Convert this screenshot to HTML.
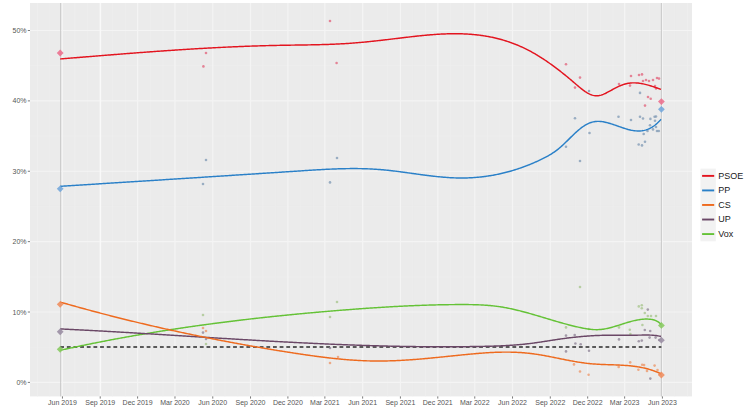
<!DOCTYPE html><html><head><meta charset="utf-8"><style>html,body{margin:0;padding:0;background:#fff;}body{width:750px;height:417px;overflow:hidden;}svg{display:block;font-family:"Liberation Sans",sans-serif;}</style></head><body>
<svg width="750" height="417" viewBox="0 0 750 417">
<rect x="0" y="0" width="750" height="417" fill="#FFFFFF"/>
<rect x="30" y="3" width="662" height="393.4" fill="#EBEBEB"/>
<g stroke="#EEEEEE" stroke-width="0.6"><line x1="30" y1="347.21" x2="692" y2="347.21"/><line x1="30" y1="276.83" x2="692" y2="276.83"/><line x1="30" y1="206.45" x2="692" y2="206.45"/><line x1="30" y1="136.07" x2="692" y2="136.07"/><line x1="30" y1="65.69" x2="692" y2="65.69"/><line x1="37.4" y1="3" x2="37.4" y2="396.4"/><line x1="49.72" y1="3" x2="49.72" y2="396.4"/><line x1="74.77" y1="3" x2="74.77" y2="396.4"/><line x1="87.5" y1="3" x2="87.5" y2="396.4"/><line x1="112.55" y1="3" x2="112.55" y2="396.4"/><line x1="125.28" y1="3" x2="125.28" y2="396.4"/><line x1="150.33" y1="3" x2="150.33" y2="396.4"/><line x1="163.06" y1="3" x2="163.06" y2="396.4"/><line x1="187.7" y1="3" x2="187.7" y2="396.4"/><line x1="200.02" y1="3" x2="200.02" y2="396.4"/><line x1="225.07" y1="3" x2="225.07" y2="396.4"/><line x1="237.8" y1="3" x2="237.8" y2="396.4"/><line x1="262.85" y1="3" x2="262.85" y2="396.4"/><line x1="275.58" y1="3" x2="275.58" y2="396.4"/><line x1="300.63" y1="3" x2="300.63" y2="396.4"/><line x1="313.36" y1="3" x2="313.36" y2="396.4"/><line x1="337.59" y1="3" x2="337.59" y2="396.4"/><line x1="349.91" y1="3" x2="349.91" y2="396.4"/><line x1="374.96" y1="3" x2="374.96" y2="396.4"/><line x1="387.69" y1="3" x2="387.69" y2="396.4"/><line x1="412.74" y1="3" x2="412.74" y2="396.4"/><line x1="425.47" y1="3" x2="425.47" y2="396.4"/><line x1="450.52" y1="3" x2="450.52" y2="396.4"/><line x1="463.25" y1="3" x2="463.25" y2="396.4"/><line x1="487.48" y1="3" x2="487.48" y2="396.4"/><line x1="499.8" y1="3" x2="499.8" y2="396.4"/><line x1="524.85" y1="3" x2="524.85" y2="396.4"/><line x1="537.58" y1="3" x2="537.58" y2="396.4"/><line x1="562.63" y1="3" x2="562.63" y2="396.4"/><line x1="575.36" y1="3" x2="575.36" y2="396.4"/><line x1="600.41" y1="3" x2="600.41" y2="396.4"/><line x1="613.15" y1="3" x2="613.15" y2="396.4"/><line x1="637.37" y1="3" x2="637.37" y2="396.4"/><line x1="649.69" y1="3" x2="649.69" y2="396.4"/><line x1="674.74" y1="3" x2="674.74" y2="396.4"/><line x1="687.47" y1="3" x2="687.47" y2="396.4"/></g>
<g stroke="#F4F4F4" stroke-width="1.2"><line x1="30" y1="382.4" x2="692" y2="382.4"/><line x1="30" y1="312.02" x2="692" y2="312.02"/><line x1="30" y1="241.64" x2="692" y2="241.64"/><line x1="30" y1="171.26" x2="692" y2="171.26"/><line x1="30" y1="100.88" x2="692" y2="100.88"/><line x1="30" y1="30.5" x2="692" y2="30.5"/></g>
<g stroke="#F4F4F4" stroke-width="1.2"><line x1="62.45" y1="3" x2="62.45" y2="396.4"/><line x1="100.23" y1="3" x2="100.23" y2="396.4"/><line x1="137.6" y1="3" x2="137.6" y2="396.4"/><line x1="174.97" y1="3" x2="174.97" y2="396.4"/><line x1="212.75" y1="3" x2="212.75" y2="396.4"/><line x1="250.53" y1="3" x2="250.53" y2="396.4"/><line x1="287.9" y1="3" x2="287.9" y2="396.4"/><line x1="324.86" y1="3" x2="324.86" y2="396.4"/><line x1="362.64" y1="3" x2="362.64" y2="396.4"/><line x1="400.42" y1="3" x2="400.42" y2="396.4"/><line x1="437.79" y1="3" x2="437.79" y2="396.4"/><line x1="474.75" y1="3" x2="474.75" y2="396.4"/><line x1="512.53" y1="3" x2="512.53" y2="396.4"/><line x1="550.31" y1="3" x2="550.31" y2="396.4"/><line x1="587.68" y1="3" x2="587.68" y2="396.4"/><line x1="624.64" y1="3" x2="624.64" y2="396.4"/><line x1="662.42" y1="3" x2="662.42" y2="396.4"/></g>
<line x1="100.53" y1="3" x2="100.53" y2="396.4" stroke="#F9F9F9" stroke-width="1.3"/>
<line x1="60.6" y1="3" x2="60.6" y2="396.4" stroke="#C0C0C0" stroke-width="0.8"/>
<line x1="661.4" y1="3" x2="661.4" y2="396.4" stroke="#C0C0C0" stroke-width="0.8"/>
<line x1="60.2" y1="347" x2="661.4" y2="347" stroke="#5A5A5A" stroke-width="1.9" stroke-dasharray="3.8 2.85"/>
<g fill="#E2607A" fill-opacity="0.75"><circle cx="206" cy="53" r="1.3"/><circle cx="203.4" cy="66.4" r="1.3"/><circle cx="330" cy="21" r="1.3"/><circle cx="336.6" cy="63" r="1.3"/><circle cx="566" cy="64.2" r="1.3"/><circle cx="580" cy="77.6" r="1.3"/><circle cx="575" cy="87.6" r="1.3"/><circle cx="619" cy="84" r="1.3"/><circle cx="631" cy="76" r="1.3"/><circle cx="630" cy="85.6" r="1.3"/><circle cx="639" cy="75" r="1.3"/><circle cx="642" cy="74.4" r="1.3"/><circle cx="643" cy="81" r="1.3"/><circle cx="646" cy="80" r="1.3"/><circle cx="649" cy="81" r="1.3"/><circle cx="653" cy="80" r="1.3"/><circle cx="657" cy="78" r="1.3"/><circle cx="659" cy="78.6" r="1.3"/><circle cx="655" cy="86" r="1.3"/><circle cx="656" cy="88.4" r="1.3"/><circle cx="648" cy="97" r="1.3"/><circle cx="650.7" cy="98.7" r="1.3"/><circle cx="645" cy="105.6" r="1.3"/></g>
<g fill="#7E98B4" fill-opacity="0.75"><circle cx="640" cy="92.9" r="1.3"/><circle cx="206" cy="160" r="1.3"/><circle cx="203" cy="184" r="1.3"/><circle cx="337" cy="158" r="1.3"/><circle cx="330" cy="182.4" r="1.3"/><circle cx="575" cy="118.3" r="1.3"/><circle cx="589.5" cy="133" r="1.3"/><circle cx="566" cy="146.8" r="1.3"/><circle cx="580" cy="161" r="1.3"/><circle cx="589" cy="91" r="1.3"/><circle cx="618.5" cy="116.8" r="1.3"/><circle cx="631" cy="120" r="1.3"/><circle cx="640" cy="116.8" r="1.3"/><circle cx="643" cy="118.5" r="1.3"/><circle cx="650.4" cy="118.9" r="1.3"/><circle cx="654.6" cy="116.8" r="1.3"/><circle cx="656" cy="116.5" r="1.3"/><circle cx="655" cy="120.7" r="1.3"/><circle cx="650" cy="125.2" r="1.3"/><circle cx="653" cy="129.4" r="1.3"/><circle cx="656" cy="127" r="1.3"/><circle cx="657" cy="131" r="1.3"/><circle cx="658.8" cy="131" r="1.3"/><circle cx="647.5" cy="131" r="1.3"/><circle cx="643.7" cy="134" r="1.3"/><circle cx="638.7" cy="144.5" r="1.3"/><circle cx="642" cy="145.4" r="1.3"/><circle cx="645" cy="141.7" r="1.3"/></g>
<g fill="#EC9466" fill-opacity="0.75"><circle cx="203" cy="328" r="1.3"/><circle cx="206" cy="331" r="1.3"/><circle cx="330" cy="363" r="1.3"/><circle cx="338" cy="357" r="1.3"/><circle cx="574" cy="364.4" r="1.3"/><circle cx="580" cy="371.5" r="1.3"/><circle cx="588.6" cy="374.7" r="1.3"/><circle cx="618.7" cy="366.9" r="1.3"/><circle cx="630.2" cy="362.4" r="1.3"/><circle cx="638.4" cy="369.7" r="1.3"/><circle cx="642.2" cy="364.7" r="1.3"/><circle cx="644.1" cy="365.1" r="1.3"/><circle cx="647" cy="370.9" r="1.3"/><circle cx="657.5" cy="370.1" r="1.3"/><circle cx="659.4" cy="374.2" r="1.3"/><circle cx="654.6" cy="365.6" r="1.3"/></g>
<g fill="#8C8094" fill-opacity="0.75"><circle cx="203" cy="332.6" r="1.3"/><circle cx="206" cy="339" r="1.3"/><circle cx="330" cy="348" r="1.3"/><circle cx="566" cy="335.6" r="1.3"/><circle cx="574.7" cy="335" r="1.3"/><circle cx="575.4" cy="343.5" r="1.3"/><circle cx="580.7" cy="344.2" r="1.3"/><circle cx="566" cy="351.4" r="1.3"/><circle cx="589" cy="350.7" r="1.3"/><circle cx="619" cy="339.4" r="1.3"/><circle cx="638.8" cy="341.2" r="1.3"/><circle cx="641.8" cy="340.6" r="1.3"/><circle cx="649.6" cy="337.6" r="1.3"/><circle cx="655.6" cy="337.6" r="1.3"/><circle cx="659.2" cy="340" r="1.3"/><circle cx="644.8" cy="330" r="1.3"/><circle cx="650.2" cy="331" r="1.3"/><circle cx="647.8" cy="309.6" r="1.3"/><circle cx="650.3" cy="378.6" r="1.3"/></g>
<g fill="#A6C48A" fill-opacity="0.75"><circle cx="203" cy="315" r="1.3"/><circle cx="206" cy="344" r="1.3"/><circle cx="330" cy="317" r="1.3"/><circle cx="337" cy="302" r="1.3"/><circle cx="580" cy="287" r="1.3"/><circle cx="566" cy="327.4" r="1.3"/><circle cx="588.6" cy="329" r="1.3"/><circle cx="638.8" cy="306.4" r="1.3"/><circle cx="641.8" cy="305.2" r="1.3"/><circle cx="641.8" cy="308.2" r="1.3"/><circle cx="644.8" cy="313" r="1.3"/><circle cx="647.8" cy="316" r="1.3"/><circle cx="651" cy="316" r="1.3"/><circle cx="656" cy="316" r="1.3"/><circle cx="642.4" cy="325" r="1.3"/><circle cx="619" cy="327.4" r="1.3"/><circle cx="629.8" cy="329.8" r="1.3"/><circle cx="630.4" cy="334" r="1.3"/></g>
<path d="M60.2,350.29 L61.2,350.07 L62.2,349.85 L63.2,349.63 L64.2,349.41 L65.2,349.19 L66.2,348.97 L67.2,348.75 L68.2,348.53 L69.2,348.32 L70.2,348.1 L71.2,347.89 L72.2,347.67 L73.2,347.46 L74.2,347.25 L75.2,347.04 L76.2,346.82 L77.2,346.61 L78.2,346.4 L79.2,346.19 L80.2,345.99 L81.2,345.78 L82.2,345.57 L83.2,345.36 L84.2,345.16 L85.2,344.95 L86.2,344.75 L87.2,344.54 L88.2,344.34 L89.2,344.14 L90.2,343.93 L91.2,343.73 L92.2,343.53 L93.2,343.33 L94.2,343.13 L95.2,342.93 L96.2,342.73 L97.2,342.53 L98.2,342.34 L99.2,342.14 L100.2,341.95 L101.2,341.75 L102.2,341.56 L103.2,341.36 L104.2,341.17 L105.2,340.98 L106.2,340.78 L107.2,340.59 L108.2,340.4 L109.2,340.21 L110.2,340.02 L111.2,339.83 L112.2,339.64 L113.2,339.46 L114.2,339.27 L115.2,339.08 L116.2,338.9 L117.2,338.71 L118.2,338.53 L119.2,338.34 L120.2,338.16 L121.2,337.98 L122.2,337.79 L123.2,337.61 L124.2,337.43 L125.2,337.25 L126.2,337.07 L127.2,336.89 L128.2,336.71 L129.2,336.54 L130.2,336.36 L131.2,336.18 L132.2,336 L133.2,335.83 L134.2,335.65 L135.2,335.48 L136.2,335.31 L137.2,335.13 L138.2,334.96 L139.2,334.79 L140.2,334.62 L141.2,334.44 L142.2,334.27 L143.2,334.1 L144.2,333.94 L145.2,333.77 L146.2,333.6 L147.2,333.43 L148.2,333.26 L149.2,333.1 L150.2,332.93 L151.2,332.77 L152.2,332.6 L153.2,332.44 L154.2,332.27 L155.2,332.11 L156.2,331.95 L157.2,331.79 L158.2,331.63 L159.2,331.47 L160.2,331.31 L161.2,331.15 L162.2,330.99 L163.2,330.83 L164.2,330.67 L165.2,330.51 L166.2,330.36 L167.2,330.2 L168.2,330.04 L169.2,329.89 L170.2,329.73 L171.2,329.58 L172.2,329.43 L173.2,329.27 L174.2,329.12 L175.2,328.97 L176.2,328.82 L177.2,328.67 L178.2,328.52 L179.2,328.37 L180.2,328.22 L181.2,328.07 L182.2,327.92 L183.2,327.77 L184.2,327.63 L185.2,327.48 L186.2,327.33 L187.2,327.19 L188.2,327.04 L189.2,326.9 L190.2,326.75 L191.2,326.61 L192.2,326.47 L193.2,326.33 L194.2,326.18 L195.2,326.04 L196.2,325.9 L197.2,325.76 L198.2,325.62 L199.2,325.48 L200.2,325.34 L201.2,325.2 L202.2,325.07 L203.2,324.93 L204.2,324.79 L205.2,324.66 L206.2,324.52 L207.2,324.38 L208.2,324.25 L209.2,324.12 L210.2,323.98 L211.2,323.85 L212.2,323.72 L213.2,323.58 L214.2,323.45 L215.2,323.32 L216.2,323.19 L217.2,323.06 L218.2,322.93 L219.2,322.8 L220.2,322.67 L221.2,322.54 L222.2,322.41 L223.2,322.29 L224.2,322.16 L225.2,322.03 L226.2,321.91 L227.2,321.78 L228.2,321.66 L229.2,321.53 L230.2,321.41 L231.2,321.28 L232.2,321.16 L233.2,321.04 L234.2,320.91 L235.2,320.79 L236.2,320.67 L237.2,320.55 L238.2,320.43 L239.2,320.31 L240.2,320.19 L241.2,320.07 L242.2,319.95 L243.2,319.83 L244.2,319.71 L245.2,319.6 L246.2,319.48 L247.2,319.36 L248.2,319.25 L249.2,319.13 L250.2,319.02 L251.2,318.9 L252.2,318.79 L253.2,318.67 L254.2,318.56 L255.2,318.45 L256.2,318.34 L257.2,318.22 L258.2,318.11 L259.2,318 L260.2,317.89 L261.2,317.78 L262.2,317.67 L263.2,317.56 L264.2,317.45 L265.2,317.34 L266.2,317.23 L267.2,317.13 L268.2,317.02 L269.2,316.91 L270.2,316.81 L271.2,316.7 L272.2,316.59 L273.2,316.49 L274.2,316.38 L275.2,316.28 L276.2,316.17 L277.2,316.07 L278.2,315.97 L279.2,315.86 L280.2,315.76 L281.2,315.66 L282.2,315.56 L283.2,315.46 L284.2,315.36 L285.2,315.26 L286.2,315.16 L287.2,315.06 L288.2,314.96 L289.2,314.86 L290.2,314.76 L291.2,314.66 L292.2,314.56 L293.2,314.47 L294.2,314.37 L295.2,314.27 L296.2,314.18 L297.2,314.08 L298.2,313.99 L299.2,313.89 L300.2,313.8 L301.2,313.7 L302.2,313.61 L303.2,313.51 L304.2,313.42 L305.2,313.33 L306.2,313.24 L307.2,313.14 L308.2,313.05 L309.2,312.96 L310.2,312.87 L311.2,312.78 L312.2,312.69 L313.2,312.6 L314.2,312.51 L315.2,312.42 L316.2,312.33 L317.2,312.24 L318.2,312.16 L319.2,312.07 L320.2,311.98 L321.2,311.89 L322.2,311.81 L323.2,311.72 L324.2,311.63 L325.2,311.55 L326.2,311.46 L327.2,311.38 L328.2,311.29 L329.2,311.21 L330.2,311.13 L331.2,311.04 L332.2,310.96 L333.2,310.88 L334.2,310.79 L335.2,310.71 L336.2,310.63 L337.2,310.55 L338.2,310.47 L339.2,310.39 L340.2,310.31 L341.2,310.23 L342.2,310.15 L343.2,310.07 L344.2,309.99 L345.2,309.91 L346.2,309.83 L347.2,309.75 L348.2,309.67 L349.2,309.6 L350.2,309.52 L351.2,309.44 L352.2,309.37 L353.2,309.29 L354.2,309.22 L355.2,309.14 L356.2,309.07 L357.2,308.99 L358.2,308.92 L359.2,308.84 L360.2,308.77 L361.2,308.7 L362.2,308.63 L363.2,308.55 L364.2,308.48 L365.2,308.41 L366.2,308.34 L367.2,308.27 L368.2,308.2 L369.2,308.13 L370.2,308.07 L371.2,308 L372.2,307.93 L373.2,307.86 L374.2,307.8 L375.2,307.73 L376.2,307.67 L377.2,307.6 L378.2,307.54 L379.2,307.47 L380.2,307.41 L381.2,307.35 L382.2,307.29 L383.2,307.22 L384.2,307.16 L385.2,307.1 L386.2,307.04 L387.2,306.98 L388.2,306.92 L389.2,306.87 L390.2,306.81 L391.2,306.75 L392.2,306.7 L393.2,306.64 L394.2,306.58 L395.2,306.53 L396.2,306.48 L397.2,306.42 L398.2,306.37 L399.2,306.32 L400.2,306.27 L401.2,306.22 L402.2,306.17 L403.2,306.12 L404.2,306.07 L405.2,306.02 L406.2,305.97 L407.2,305.93 L408.2,305.88 L409.2,305.83 L410.2,305.79 L411.2,305.75 L412.2,305.7 L413.2,305.66 L414.2,305.62 L415.2,305.58 L416.2,305.54 L417.2,305.5 L418.2,305.46 L419.2,305.42 L420.2,305.38 L421.2,305.35 L422.2,305.31 L423.2,305.27 L424.2,305.24 L425.2,305.21 L426.2,305.17 L427.2,305.14 L428.2,305.11 L429.2,305.08 L430.2,305.05 L431.2,305.02 L432.2,304.99 L433.2,304.97 L434.2,304.94 L435.2,304.92 L436.2,304.89 L437.2,304.87 L438.2,304.84 L439.2,304.82 L440.2,304.8 L441.2,304.78 L442.2,304.76 L443.2,304.74 L444.2,304.72 L445.2,304.71 L446.2,304.69 L447.2,304.68 L448.2,304.66 L449.2,304.65 L450.2,304.64 L451.2,304.63 L452.2,304.61 L453.2,304.61 L454.2,304.6 L455.2,304.59 L456.2,304.58 L457.2,304.58 L458.2,304.57 L459.2,304.57 L460.2,304.56 L461.2,304.56 L462.2,304.56 L463.2,304.56 L464.2,304.56 L465.2,304.57 L466.2,304.57 L467.2,304.58 L468.2,304.59 L469.2,304.6 L470.2,304.61 L471.2,304.63 L472.2,304.65 L473.2,304.67 L474.2,304.69 L475.2,304.72 L476.2,304.75 L477.2,304.78 L478.2,304.82 L479.2,304.86 L480.2,304.9 L481.2,304.95 L482.2,305 L483.2,305.06 L484.2,305.12 L485.2,305.18 L486.2,305.25 L487.2,305.33 L488.2,305.41 L489.2,305.49 L490.2,305.58 L491.2,305.67 L492.2,305.77 L493.2,305.88 L494.2,305.99 L495.2,306.1 L496.2,306.23 L497.2,306.35 L498.2,306.49 L499.2,306.63 L500.2,306.78 L501.2,306.93 L502.2,307.09 L503.2,307.26 L504.2,307.43 L505.2,307.61 L506.2,307.8 L507.2,307.99 L508.2,308.18 L509.2,308.39 L510.2,308.59 L511.2,308.81 L512.2,309.02 L513.2,309.24 L514.2,309.47 L515.2,309.7 L516.2,309.94 L517.2,310.18 L518.2,310.42 L519.2,310.67 L520.2,310.92 L521.2,311.18 L522.2,311.44 L523.2,311.7 L524.2,311.97 L525.2,312.24 L526.2,312.51 L527.2,312.78 L528.2,313.06 L529.2,313.34 L530.2,313.62 L531.2,313.91 L532.2,314.2 L533.2,314.48 L534.2,314.77 L535.2,315.07 L536.2,315.36 L537.2,315.66 L538.2,315.95 L539.2,316.25 L540.2,316.55 L541.2,316.85 L542.2,317.15 L543.2,317.45 L544.2,317.75 L545.2,318.05 L546.2,318.35 L547.2,318.65 L548.2,318.95 L549.2,319.25 L550.2,319.55 L551.2,319.85 L552.2,320.15 L553.2,320.45 L554.2,320.74 L555.2,321.04 L556.2,321.33 L557.2,321.62 L558.2,321.91 L559.2,322.2 L560.2,322.49 L561.2,322.77 L562.2,323.05 L563.2,323.33 L564.2,323.61 L565.2,323.88 L566.2,324.15 L567.2,324.42 L568.2,324.69 L569.2,324.95 L570.2,325.21 L571.2,325.46 L572.2,325.71 L573.2,325.96 L574.2,326.2 L575.2,326.44 L576.2,326.68 L577.2,326.91 L578.2,327.13 L579.2,327.36 L580.2,327.57 L581.2,327.78 L582.2,327.99 L583.2,328.18 L584.2,328.37 L585.2,328.55 L586.2,328.72 L587.2,328.88 L588.2,329.03 L589.2,329.17 L590.2,329.29 L591.2,329.39 L592.2,329.48 L593.2,329.56 L594.2,329.61 L595.2,329.65 L596.2,329.67 L597.2,329.66 L598.2,329.64 L599.2,329.59 L600.2,329.52 L601.2,329.43 L602.2,329.31 L603.2,329.17 L604.2,329.01 L605.2,328.84 L606.2,328.64 L607.2,328.43 L608.2,328.21 L609.2,327.97 L610.2,327.71 L611.2,327.45 L612.2,327.18 L613.2,326.9 L614.2,326.61 L615.2,326.31 L616.2,326.01 L617.2,325.7 L618.2,325.39 L619.2,325.07 L620.2,324.76 L621.2,324.44 L622.2,324.12 L623.2,323.8 L624.2,323.49 L625.2,323.18 L626.2,322.87 L627.2,322.56 L628.2,322.27 L629.2,321.98 L630.2,321.69 L631.2,321.42 L632.2,321.16 L633.2,320.9 L634.2,320.66 L635.2,320.43 L636.2,320.22 L637.2,320.02 L638.2,319.84 L639.2,319.67 L640.2,319.52 L641.2,319.39 L642.2,319.28 L643.2,319.2 L644.2,319.13 L645.2,319.09 L646.2,319.07 L647.2,319.07 L648.2,319.1 L649.2,319.16 L650.2,319.25 L651.2,319.36 L652.2,319.52 L653.2,319.73 L654.2,320.01 L655.2,320.36 L656.2,320.79 L657.2,321.31 L658.2,321.95 L659.2,322.7 L660.2,323.57 L661,324.37" fill="none" stroke="#64C236" stroke-width="1.45" stroke-linejoin="round" stroke-linecap="butt"/>
<path d="M60.2,328.93 L61.2,328.97 L62.2,329.02 L63.2,329.07 L64.2,329.12 L65.2,329.16 L66.2,329.21 L67.2,329.26 L68.2,329.31 L69.2,329.36 L70.2,329.41 L71.2,329.46 L72.2,329.51 L73.2,329.56 L74.2,329.61 L75.2,329.66 L76.2,329.71 L77.2,329.76 L78.2,329.81 L79.2,329.86 L80.2,329.91 L81.2,329.96 L82.2,330.02 L83.2,330.07 L84.2,330.12 L85.2,330.17 L86.2,330.23 L87.2,330.28 L88.2,330.33 L89.2,330.38 L90.2,330.44 L91.2,330.49 L92.2,330.54 L93.2,330.6 L94.2,330.65 L95.2,330.71 L96.2,330.76 L97.2,330.82 L98.2,330.87 L99.2,330.93 L100.2,330.98 L101.2,331.04 L102.2,331.09 L103.2,331.15 L104.2,331.2 L105.2,331.26 L106.2,331.31 L107.2,331.37 L108.2,331.43 L109.2,331.48 L110.2,331.54 L111.2,331.6 L112.2,331.65 L113.2,331.71 L114.2,331.77 L115.2,331.82 L116.2,331.88 L117.2,331.94 L118.2,332 L119.2,332.05 L120.2,332.11 L121.2,332.17 L122.2,332.23 L123.2,332.29 L124.2,332.35 L125.2,332.4 L126.2,332.46 L127.2,332.52 L128.2,332.58 L129.2,332.64 L130.2,332.7 L131.2,332.76 L132.2,332.82 L133.2,332.88 L134.2,332.94 L135.2,333 L136.2,333.06 L137.2,333.12 L138.2,333.18 L139.2,333.24 L140.2,333.3 L141.2,333.36 L142.2,333.42 L143.2,333.48 L144.2,333.54 L145.2,333.6 L146.2,333.66 L147.2,333.72 L148.2,333.78 L149.2,333.84 L150.2,333.9 L151.2,333.96 L152.2,334.02 L153.2,334.08 L154.2,334.15 L155.2,334.21 L156.2,334.27 L157.2,334.33 L158.2,334.39 L159.2,334.45 L160.2,334.51 L161.2,334.57 L162.2,334.64 L163.2,334.7 L164.2,334.76 L165.2,334.82 L166.2,334.88 L167.2,334.94 L168.2,335.01 L169.2,335.07 L170.2,335.13 L171.2,335.19 L172.2,335.25 L173.2,335.32 L174.2,335.38 L175.2,335.44 L176.2,335.5 L177.2,335.56 L178.2,335.63 L179.2,335.69 L180.2,335.75 L181.2,335.81 L182.2,335.87 L183.2,335.94 L184.2,336 L185.2,336.06 L186.2,336.12 L187.2,336.19 L188.2,336.25 L189.2,336.31 L190.2,336.37 L191.2,336.43 L192.2,336.5 L193.2,336.56 L194.2,336.62 L195.2,336.68 L196.2,336.74 L197.2,336.81 L198.2,336.87 L199.2,336.93 L200.2,336.99 L201.2,337.05 L202.2,337.12 L203.2,337.18 L204.2,337.24 L205.2,337.3 L206.2,337.36 L207.2,337.43 L208.2,337.49 L209.2,337.55 L210.2,337.61 L211.2,337.67 L212.2,337.73 L213.2,337.8 L214.2,337.86 L215.2,337.92 L216.2,337.98 L217.2,338.04 L218.2,338.1 L219.2,338.16 L220.2,338.22 L221.2,338.29 L222.2,338.35 L223.2,338.41 L224.2,338.47 L225.2,338.53 L226.2,338.59 L227.2,338.65 L228.2,338.71 L229.2,338.77 L230.2,338.83 L231.2,338.89 L232.2,338.95 L233.2,339.01 L234.2,339.07 L235.2,339.13 L236.2,339.19 L237.2,339.25 L238.2,339.31 L239.2,339.37 L240.2,339.43 L241.2,339.49 L242.2,339.55 L243.2,339.61 L244.2,339.67 L245.2,339.73 L246.2,339.79 L247.2,339.84 L248.2,339.9 L249.2,339.96 L250.2,340.02 L251.2,340.08 L252.2,340.14 L253.2,340.19 L254.2,340.25 L255.2,340.31 L256.2,340.37 L257.2,340.43 L258.2,340.48 L259.2,340.54 L260.2,340.6 L261.2,340.65 L262.2,340.71 L263.2,340.77 L264.2,340.82 L265.2,340.88 L266.2,340.94 L267.2,340.99 L268.2,341.05 L269.2,341.1 L270.2,341.16 L271.2,341.22 L272.2,341.27 L273.2,341.33 L274.2,341.38 L275.2,341.44 L276.2,341.49 L277.2,341.54 L278.2,341.6 L279.2,341.65 L280.2,341.71 L281.2,341.76 L282.2,341.81 L283.2,341.87 L284.2,341.92 L285.2,341.97 L286.2,342.03 L287.2,342.08 L288.2,342.13 L289.2,342.18 L290.2,342.24 L291.2,342.29 L292.2,342.34 L293.2,342.39 L294.2,342.44 L295.2,342.49 L296.2,342.55 L297.2,342.6 L298.2,342.65 L299.2,342.7 L300.2,342.75 L301.2,342.8 L302.2,342.85 L303.2,342.9 L304.2,342.94 L305.2,342.99 L306.2,343.04 L307.2,343.09 L308.2,343.14 L309.2,343.19 L310.2,343.24 L311.2,343.28 L312.2,343.33 L313.2,343.38 L314.2,343.42 L315.2,343.47 L316.2,343.52 L317.2,343.56 L318.2,343.61 L319.2,343.65 L320.2,343.7 L321.2,343.75 L322.2,343.79 L323.2,343.84 L324.2,343.88 L325.2,343.92 L326.2,343.97 L327.2,344.01 L328.2,344.05 L329.2,344.1 L330.2,344.14 L331.2,344.18 L332.2,344.23 L333.2,344.27 L334.2,344.31 L335.2,344.35 L336.2,344.39 L337.2,344.43 L338.2,344.47 L339.2,344.51 L340.2,344.55 L341.2,344.59 L342.2,344.63 L343.2,344.67 L344.2,344.71 L345.2,344.75 L346.2,344.79 L347.2,344.83 L348.2,344.86 L349.2,344.9 L350.2,344.94 L351.2,344.97 L352.2,345.01 L353.2,345.05 L354.2,345.08 L355.2,345.12 L356.2,345.15 L357.2,345.19 L358.2,345.22 L359.2,345.26 L360.2,345.29 L361.2,345.32 L362.2,345.36 L363.2,345.39 L364.2,345.42 L365.2,345.45 L366.2,345.49 L367.2,345.52 L368.2,345.55 L369.2,345.58 L370.2,345.61 L371.2,345.64 L372.2,345.67 L373.2,345.7 L374.2,345.73 L375.2,345.76 L376.2,345.79 L377.2,345.81 L378.2,345.84 L379.2,345.87 L380.2,345.9 L381.2,345.92 L382.2,345.95 L383.2,345.97 L384.2,346 L385.2,346.02 L386.2,346.05 L387.2,346.07 L388.2,346.1 L389.2,346.12 L390.2,346.14 L391.2,346.17 L392.2,346.19 L393.2,346.21 L394.2,346.23 L395.2,346.25 L396.2,346.28 L397.2,346.3 L398.2,346.32 L399.2,346.34 L400.2,346.36 L401.2,346.37 L402.2,346.39 L403.2,346.41 L404.2,346.43 L405.2,346.45 L406.2,346.46 L407.2,346.48 L408.2,346.49 L409.2,346.51 L410.2,346.53 L411.2,346.54 L412.2,346.55 L413.2,346.57 L414.2,346.58 L415.2,346.59 L416.2,346.61 L417.2,346.62 L418.2,346.63 L419.2,346.64 L420.2,346.65 L421.2,346.66 L422.2,346.67 L423.2,346.68 L424.2,346.69 L425.2,346.7 L426.2,346.71 L427.2,346.72 L428.2,346.72 L429.2,346.73 L430.2,346.74 L431.2,346.74 L432.2,346.75 L433.2,346.75 L434.2,346.76 L435.2,346.76 L436.2,346.77 L437.2,346.77 L438.2,346.77 L439.2,346.77 L440.2,346.78 L441.2,346.78 L442.2,346.78 L443.2,346.78 L444.2,346.78 L445.2,346.78 L446.2,346.78 L447.2,346.77 L448.2,346.77 L449.2,346.77 L450.2,346.77 L451.2,346.76 L452.2,346.76 L453.2,346.75 L454.2,346.75 L455.2,346.74 L456.2,346.74 L457.2,346.73 L458.2,346.72 L459.2,346.71 L460.2,346.71 L461.2,346.7 L462.2,346.69 L463.2,346.68 L464.2,346.67 L465.2,346.66 L466.2,346.65 L467.2,346.63 L468.2,346.62 L469.2,346.61 L470.2,346.59 L471.2,346.58 L472.2,346.57 L473.2,346.55 L474.2,346.53 L475.2,346.52 L476.2,346.5 L477.2,346.48 L478.2,346.47 L479.2,346.45 L480.2,346.43 L481.2,346.41 L482.2,346.39 L483.2,346.37 L484.2,346.35 L485.2,346.32 L486.2,346.3 L487.2,346.28 L488.2,346.25 L489.2,346.23 L490.2,346.2 L491.2,346.17 L492.2,346.14 L493.2,346.11 L494.2,346.08 L495.2,346.04 L496.2,346.01 L497.2,345.97 L498.2,345.93 L499.2,345.89 L500.2,345.85 L501.2,345.81 L502.2,345.76 L503.2,345.71 L504.2,345.66 L505.2,345.61 L506.2,345.56 L507.2,345.5 L508.2,345.44 L509.2,345.38 L510.2,345.32 L511.2,345.26 L512.2,345.19 L513.2,345.12 L514.2,345.05 L515.2,344.97 L516.2,344.89 L517.2,344.81 L518.2,344.73 L519.2,344.64 L520.2,344.55 L521.2,344.46 L522.2,344.37 L523.2,344.27 L524.2,344.17 L525.2,344.06 L526.2,343.95 L527.2,343.84 L528.2,343.72 L529.2,343.61 L530.2,343.48 L531.2,343.36 L532.2,343.23 L533.2,343.1 L534.2,342.96 L535.2,342.82 L536.2,342.68 L537.2,342.54 L538.2,342.39 L539.2,342.24 L540.2,342.1 L541.2,341.94 L542.2,341.79 L543.2,341.64 L544.2,341.48 L545.2,341.33 L546.2,341.17 L547.2,341.02 L548.2,340.86 L549.2,340.7 L550.2,340.55 L551.2,340.39 L552.2,340.23 L553.2,340.08 L554.2,339.93 L555.2,339.77 L556.2,339.62 L557.2,339.47 L558.2,339.32 L559.2,339.18 L560.2,339.03 L561.2,338.89 L562.2,338.75 L563.2,338.61 L564.2,338.48 L565.2,338.35 L566.2,338.22 L567.2,338.09 L568.2,337.96 L569.2,337.84 L570.2,337.72 L571.2,337.6 L572.2,337.49 L573.2,337.38 L574.2,337.27 L575.2,337.16 L576.2,337.05 L577.2,336.95 L578.2,336.85 L579.2,336.76 L580.2,336.66 L581.2,336.57 L582.2,336.48 L583.2,336.4 L584.2,336.31 L585.2,336.23 L586.2,336.16 L587.2,336.08 L588.2,336.01 L589.2,335.94 L590.2,335.88 L591.2,335.81 L592.2,335.75 L593.2,335.7 L594.2,335.64 L595.2,335.59 L596.2,335.55 L597.2,335.5 L598.2,335.46 L599.2,335.42 L600.2,335.39 L601.2,335.36 L602.2,335.33 L603.2,335.3 L604.2,335.28 L605.2,335.26 L606.2,335.24 L607.2,335.22 L608.2,335.21 L609.2,335.2 L610.2,335.19 L611.2,335.18 L612.2,335.18 L613.2,335.17 L614.2,335.17 L615.2,335.17 L616.2,335.17 L617.2,335.17 L618.2,335.17 L619.2,335.17 L620.2,335.17 L621.2,335.17 L622.2,335.18 L623.2,335.18 L624.2,335.18 L625.2,335.19 L626.2,335.19 L627.2,335.19 L628.2,335.19 L629.2,335.2 L630.2,335.2 L631.2,335.2 L632.2,335.19 L633.2,335.19 L634.2,335.19 L635.2,335.18 L636.2,335.17 L637.2,335.16 L638.2,335.15 L639.2,335.14 L640.2,335.12 L641.2,335.11 L642.2,335.09 L643.2,335.07 L644.2,335.06 L645.2,335.05 L646.2,335.04 L647.2,335.04 L648.2,335.05 L649.2,335.07 L650.2,335.1 L651.2,335.14 L652.2,335.2 L653.2,335.27 L654.2,335.36 L655.2,335.47 L656.2,335.59 L657.2,335.74 L658.2,335.91 L659.2,336.1 L660.2,336.32 L661,336.52" fill="none" stroke="#6A4766" stroke-width="1.45" stroke-linejoin="round" stroke-linecap="butt"/>
<path d="M60.2,302.07 L61.2,302.35 L62.2,302.64 L63.2,302.93 L64.2,303.21 L65.2,303.5 L66.2,303.78 L67.2,304.07 L68.2,304.35 L69.2,304.63 L70.2,304.92 L71.2,305.2 L72.2,305.48 L73.2,305.76 L74.2,306.04 L75.2,306.32 L76.2,306.59 L77.2,306.87 L78.2,307.15 L79.2,307.43 L80.2,307.7 L81.2,307.98 L82.2,308.25 L83.2,308.52 L84.2,308.8 L85.2,309.07 L86.2,309.34 L87.2,309.61 L88.2,309.88 L89.2,310.15 L90.2,310.42 L91.2,310.69 L92.2,310.96 L93.2,311.23 L94.2,311.49 L95.2,311.76 L96.2,312.03 L97.2,312.29 L98.2,312.55 L99.2,312.82 L100.2,313.08 L101.2,313.34 L102.2,313.61 L103.2,313.87 L104.2,314.13 L105.2,314.39 L106.2,314.65 L107.2,314.91 L108.2,315.16 L109.2,315.42 L110.2,315.68 L111.2,315.93 L112.2,316.19 L113.2,316.44 L114.2,316.7 L115.2,316.95 L116.2,317.21 L117.2,317.46 L118.2,317.71 L119.2,317.96 L120.2,318.21 L121.2,318.46 L122.2,318.71 L123.2,318.96 L124.2,319.21 L125.2,319.46 L126.2,319.7 L127.2,319.95 L128.2,320.2 L129.2,320.44 L130.2,320.69 L131.2,320.93 L132.2,321.17 L133.2,321.42 L134.2,321.66 L135.2,321.9 L136.2,322.14 L137.2,322.38 L138.2,322.62 L139.2,322.86 L140.2,323.1 L141.2,323.34 L142.2,323.57 L143.2,323.81 L144.2,324.05 L145.2,324.28 L146.2,324.52 L147.2,324.75 L148.2,324.98 L149.2,325.22 L150.2,325.45 L151.2,325.68 L152.2,325.91 L153.2,326.15 L154.2,326.38 L155.2,326.6 L156.2,326.83 L157.2,327.06 L158.2,327.29 L159.2,327.52 L160.2,327.74 L161.2,327.97 L162.2,328.2 L163.2,328.42 L164.2,328.65 L165.2,328.87 L166.2,329.09 L167.2,329.32 L168.2,329.54 L169.2,329.76 L170.2,329.98 L171.2,330.2 L172.2,330.42 L173.2,330.64 L174.2,330.86 L175.2,331.08 L176.2,331.29 L177.2,331.51 L178.2,331.73 L179.2,331.94 L180.2,332.16 L181.2,332.37 L182.2,332.59 L183.2,332.8 L184.2,333.01 L185.2,333.23 L186.2,333.44 L187.2,333.65 L188.2,333.86 L189.2,334.07 L190.2,334.28 L191.2,334.49 L192.2,334.7 L193.2,334.9 L194.2,335.11 L195.2,335.32 L196.2,335.52 L197.2,335.73 L198.2,335.93 L199.2,336.14 L200.2,336.34 L201.2,336.55 L202.2,336.75 L203.2,336.95 L204.2,337.15 L205.2,337.35 L206.2,337.55 L207.2,337.75 L208.2,337.95 L209.2,338.15 L210.2,338.35 L211.2,338.55 L212.2,338.75 L213.2,338.94 L214.2,339.14 L215.2,339.34 L216.2,339.53 L217.2,339.72 L218.2,339.92 L219.2,340.11 L220.2,340.31 L221.2,340.5 L222.2,340.69 L223.2,340.88 L224.2,341.07 L225.2,341.26 L226.2,341.45 L227.2,341.64 L228.2,341.83 L229.2,342.02 L230.2,342.2 L231.2,342.39 L232.2,342.58 L233.2,342.76 L234.2,342.95 L235.2,343.13 L236.2,343.32 L237.2,343.5 L238.2,343.69 L239.2,343.87 L240.2,344.05 L241.2,344.23 L242.2,344.41 L243.2,344.59 L244.2,344.77 L245.2,344.95 L246.2,345.13 L247.2,345.31 L248.2,345.49 L249.2,345.67 L250.2,345.84 L251.2,346.02 L252.2,346.2 L253.2,346.37 L254.2,346.55 L255.2,346.72 L256.2,346.89 L257.2,347.07 L258.2,347.24 L259.2,347.41 L260.2,347.58 L261.2,347.75 L262.2,347.93 L263.2,348.1 L264.2,348.27 L265.2,348.43 L266.2,348.6 L267.2,348.77 L268.2,348.94 L269.2,349.11 L270.2,349.27 L271.2,349.44 L272.2,349.6 L273.2,349.77 L274.2,349.93 L275.2,350.1 L276.2,350.26 L277.2,350.42 L278.2,350.59 L279.2,350.75 L280.2,350.91 L281.2,351.07 L282.2,351.23 L283.2,351.39 L284.2,351.55 L285.2,351.71 L286.2,351.87 L287.2,352.03 L288.2,352.18 L289.2,352.34 L290.2,352.5 L291.2,352.65 L292.2,352.81 L293.2,352.96 L294.2,353.12 L295.2,353.27 L296.2,353.43 L297.2,353.58 L298.2,353.73 L299.2,353.88 L300.2,354.03 L301.2,354.18 L302.2,354.33 L303.2,354.48 L304.2,354.62 L305.2,354.77 L306.2,354.92 L307.2,355.06 L308.2,355.2 L309.2,355.34 L310.2,355.49 L311.2,355.63 L312.2,355.76 L313.2,355.9 L314.2,356.04 L315.2,356.17 L316.2,356.31 L317.2,356.44 L318.2,356.57 L319.2,356.7 L320.2,356.83 L321.2,356.96 L322.2,357.09 L323.2,357.21 L324.2,357.33 L325.2,357.45 L326.2,357.58 L327.2,357.69 L328.2,357.81 L329.2,357.93 L330.2,358.04 L331.2,358.15 L332.2,358.26 L333.2,358.37 L334.2,358.48 L335.2,358.58 L336.2,358.69 L337.2,358.79 L338.2,358.89 L339.2,358.99 L340.2,359.08 L341.2,359.18 L342.2,359.27 L343.2,359.36 L344.2,359.45 L345.2,359.53 L346.2,359.62 L347.2,359.7 L348.2,359.78 L349.2,359.86 L350.2,359.93 L351.2,360.01 L352.2,360.08 L353.2,360.14 L354.2,360.21 L355.2,360.27 L356.2,360.34 L357.2,360.39 L358.2,360.45 L359.2,360.51 L360.2,360.56 L361.2,360.61 L362.2,360.65 L363.2,360.7 L364.2,360.74 L365.2,360.78 L366.2,360.81 L367.2,360.85 L368.2,360.88 L369.2,360.9 L370.2,360.93 L371.2,360.95 L372.2,360.97 L373.2,360.99 L374.2,361 L375.2,361.01 L376.2,361.02 L377.2,361.02 L378.2,361.03 L379.2,361.02 L380.2,361.02 L381.2,361.01 L382.2,361.01 L383.2,360.99 L384.2,360.98 L385.2,360.96 L386.2,360.94 L387.2,360.92 L388.2,360.9 L389.2,360.87 L390.2,360.84 L391.2,360.81 L392.2,360.77 L393.2,360.74 L394.2,360.7 L395.2,360.66 L396.2,360.61 L397.2,360.57 L398.2,360.52 L399.2,360.47 L400.2,360.42 L401.2,360.37 L402.2,360.31 L403.2,360.25 L404.2,360.19 L405.2,360.13 L406.2,360.07 L407.2,360.01 L408.2,359.94 L409.2,359.87 L410.2,359.8 L411.2,359.73 L412.2,359.66 L413.2,359.59 L414.2,359.51 L415.2,359.43 L416.2,359.35 L417.2,359.27 L418.2,359.19 L419.2,359.11 L420.2,359.03 L421.2,358.94 L422.2,358.86 L423.2,358.77 L424.2,358.68 L425.2,358.59 L426.2,358.5 L427.2,358.41 L428.2,358.32 L429.2,358.22 L430.2,358.13 L431.2,358.04 L432.2,357.94 L433.2,357.84 L434.2,357.75 L435.2,357.65 L436.2,357.55 L437.2,357.45 L438.2,357.35 L439.2,357.25 L440.2,357.15 L441.2,357.05 L442.2,356.95 L443.2,356.85 L444.2,356.75 L445.2,356.64 L446.2,356.54 L447.2,356.44 L448.2,356.34 L449.2,356.23 L450.2,356.13 L451.2,356.03 L452.2,355.93 L453.2,355.82 L454.2,355.72 L455.2,355.62 L456.2,355.51 L457.2,355.41 L458.2,355.31 L459.2,355.21 L460.2,355.11 L461.2,355 L462.2,354.9 L463.2,354.8 L464.2,354.7 L465.2,354.6 L466.2,354.51 L467.2,354.41 L468.2,354.31 L469.2,354.22 L470.2,354.12 L471.2,354.03 L472.2,353.94 L473.2,353.85 L474.2,353.76 L475.2,353.67 L476.2,353.58 L477.2,353.5 L478.2,353.41 L479.2,353.33 L480.2,353.25 L481.2,353.18 L482.2,353.1 L483.2,353.03 L484.2,352.96 L485.2,352.89 L486.2,352.82 L487.2,352.76 L488.2,352.69 L489.2,352.64 L490.2,352.58 L491.2,352.53 L492.2,352.47 L493.2,352.43 L494.2,352.38 L495.2,352.34 L496.2,352.3 L497.2,352.27 L498.2,352.23 L499.2,352.21 L500.2,352.18 L501.2,352.16 L502.2,352.14 L503.2,352.13 L504.2,352.12 L505.2,352.11 L506.2,352.11 L507.2,352.11 L508.2,352.11 L509.2,352.12 L510.2,352.14 L511.2,352.16 L512.2,352.18 L513.2,352.2 L514.2,352.24 L515.2,352.27 L516.2,352.31 L517.2,352.36 L518.2,352.41 L519.2,352.47 L520.2,352.53 L521.2,352.59 L522.2,352.67 L523.2,352.74 L524.2,352.82 L525.2,352.91 L526.2,353.01 L527.2,353.1 L528.2,353.21 L529.2,353.32 L530.2,353.43 L531.2,353.56 L532.2,353.68 L533.2,353.82 L534.2,353.96 L535.2,354.1 L536.2,354.25 L537.2,354.4 L538.2,354.56 L539.2,354.72 L540.2,354.89 L541.2,355.05 L542.2,355.23 L543.2,355.4 L544.2,355.58 L545.2,355.77 L546.2,355.95 L547.2,356.14 L548.2,356.33 L549.2,356.52 L550.2,356.72 L551.2,356.91 L552.2,357.11 L553.2,357.31 L554.2,357.51 L555.2,357.71 L556.2,357.91 L557.2,358.11 L558.2,358.31 L559.2,358.52 L560.2,358.72 L561.2,358.92 L562.2,359.12 L563.2,359.32 L564.2,359.52 L565.2,359.72 L566.2,359.92 L567.2,360.11 L568.2,360.3 L569.2,360.49 L570.2,360.68 L571.2,360.87 L572.2,361.05 L573.2,361.23 L574.2,361.41 L575.2,361.59 L576.2,361.76 L577.2,361.92 L578.2,362.09 L579.2,362.25 L580.2,362.4 L581.2,362.55 L582.2,362.7 L583.2,362.84 L584.2,362.97 L585.2,363.1 L586.2,363.23 L587.2,363.35 L588.2,363.46 L589.2,363.57 L590.2,363.67 L591.2,363.76 L592.2,363.85 L593.2,363.93 L594.2,364 L595.2,364.07 L596.2,364.14 L597.2,364.2 L598.2,364.26 L599.2,364.31 L600.2,364.36 L601.2,364.41 L602.2,364.45 L603.2,364.49 L604.2,364.53 L605.2,364.57 L606.2,364.6 L607.2,364.64 L608.2,364.67 L609.2,364.7 L610.2,364.73 L611.2,364.77 L612.2,364.8 L613.2,364.83 L614.2,364.87 L615.2,364.9 L616.2,364.94 L617.2,364.98 L618.2,365.02 L619.2,365.07 L620.2,365.12 L621.2,365.17 L622.2,365.22 L623.2,365.28 L624.2,365.35 L625.2,365.42 L626.2,365.49 L627.2,365.57 L628.2,365.65 L629.2,365.75 L630.2,365.84 L631.2,365.95 L632.2,366.06 L633.2,366.18 L634.2,366.3 L635.2,366.44 L636.2,366.58 L637.2,366.73 L638.2,366.89 L639.2,367.06 L640.2,367.24 L641.2,367.43 L642.2,367.63 L643.2,367.84 L644.2,368.06 L645.2,368.3 L646.2,368.54 L647.2,368.8 L648.2,369.07 L649.2,369.35 L650.2,369.65 L651.2,369.95 L652.2,370.28 L653.2,370.61 L654.2,370.96 L655.2,371.33 L656.2,371.71 L657.2,372.11 L658.2,372.52 L659.2,372.94 L660.2,373.39 L661,373.76" fill="none" stroke="#EE6A1E" stroke-width="1.45" stroke-linejoin="round" stroke-linecap="butt"/>
<path d="M60.2,186.29 L61.2,186.23 L62.2,186.16 L63.2,186.1 L64.2,186.04 L65.2,185.98 L66.2,185.91 L67.2,185.85 L68.2,185.79 L69.2,185.73 L70.2,185.66 L71.2,185.6 L72.2,185.54 L73.2,185.48 L74.2,185.41 L75.2,185.35 L76.2,185.29 L77.2,185.23 L78.2,185.16 L79.2,185.1 L80.2,185.04 L81.2,184.98 L82.2,184.91 L83.2,184.85 L84.2,184.79 L85.2,184.72 L86.2,184.66 L87.2,184.6 L88.2,184.54 L89.2,184.47 L90.2,184.41 L91.2,184.35 L92.2,184.28 L93.2,184.22 L94.2,184.16 L95.2,184.1 L96.2,184.03 L97.2,183.97 L98.2,183.91 L99.2,183.84 L100.2,183.78 L101.2,183.72 L102.2,183.65 L103.2,183.59 L104.2,183.53 L105.2,183.47 L106.2,183.4 L107.2,183.34 L108.2,183.28 L109.2,183.21 L110.2,183.15 L111.2,183.09 L112.2,183.02 L113.2,182.96 L114.2,182.9 L115.2,182.83 L116.2,182.77 L117.2,182.71 L118.2,182.64 L119.2,182.58 L120.2,182.52 L121.2,182.45 L122.2,182.39 L123.2,182.33 L124.2,182.26 L125.2,182.2 L126.2,182.14 L127.2,182.07 L128.2,182.01 L129.2,181.95 L130.2,181.88 L131.2,181.82 L132.2,181.76 L133.2,181.69 L134.2,181.63 L135.2,181.57 L136.2,181.5 L137.2,181.44 L138.2,181.38 L139.2,181.31 L140.2,181.25 L141.2,181.19 L142.2,181.12 L143.2,181.06 L144.2,180.99 L145.2,180.93 L146.2,180.87 L147.2,180.8 L148.2,180.74 L149.2,180.68 L150.2,180.61 L151.2,180.55 L152.2,180.48 L153.2,180.42 L154.2,180.36 L155.2,180.29 L156.2,180.23 L157.2,180.17 L158.2,180.1 L159.2,180.04 L160.2,179.97 L161.2,179.91 L162.2,179.85 L163.2,179.78 L164.2,179.72 L165.2,179.65 L166.2,179.59 L167.2,179.53 L168.2,179.46 L169.2,179.4 L170.2,179.34 L171.2,179.27 L172.2,179.21 L173.2,179.14 L174.2,179.08 L175.2,179.01 L176.2,178.95 L177.2,178.89 L178.2,178.82 L179.2,178.76 L180.2,178.69 L181.2,178.63 L182.2,178.57 L183.2,178.5 L184.2,178.44 L185.2,178.37 L186.2,178.31 L187.2,178.25 L188.2,178.18 L189.2,178.12 L190.2,178.05 L191.2,177.99 L192.2,177.92 L193.2,177.86 L194.2,177.8 L195.2,177.73 L196.2,177.67 L197.2,177.6 L198.2,177.54 L199.2,177.47 L200.2,177.41 L201.2,177.35 L202.2,177.28 L203.2,177.22 L204.2,177.15 L205.2,177.09 L206.2,177.02 L207.2,176.96 L208.2,176.89 L209.2,176.83 L210.2,176.77 L211.2,176.7 L212.2,176.64 L213.2,176.57 L214.2,176.51 L215.2,176.44 L216.2,176.38 L217.2,176.31 L218.2,176.25 L219.2,176.18 L220.2,176.12 L221.2,176.05 L222.2,175.99 L223.2,175.93 L224.2,175.86 L225.2,175.8 L226.2,175.73 L227.2,175.67 L228.2,175.6 L229.2,175.54 L230.2,175.47 L231.2,175.41 L232.2,175.34 L233.2,175.28 L234.2,175.21 L235.2,175.15 L236.2,175.08 L237.2,175.02 L238.2,174.95 L239.2,174.89 L240.2,174.82 L241.2,174.76 L242.2,174.69 L243.2,174.63 L244.2,174.57 L245.2,174.5 L246.2,174.44 L247.2,174.37 L248.2,174.31 L249.2,174.24 L250.2,174.18 L251.2,174.11 L252.2,174.05 L253.2,173.98 L254.2,173.92 L255.2,173.85 L256.2,173.79 L257.2,173.72 L258.2,173.66 L259.2,173.59 L260.2,173.53 L261.2,173.46 L262.2,173.4 L263.2,173.33 L264.2,173.26 L265.2,173.2 L266.2,173.13 L267.2,173.07 L268.2,173 L269.2,172.94 L270.2,172.87 L271.2,172.81 L272.2,172.74 L273.2,172.68 L274.2,172.61 L275.2,172.55 L276.2,172.48 L277.2,172.42 L278.2,172.35 L279.2,172.29 L280.2,172.22 L281.2,172.16 L282.2,172.09 L283.2,172.03 L284.2,171.96 L285.2,171.89 L286.2,171.83 L287.2,171.76 L288.2,171.7 L289.2,171.63 L290.2,171.57 L291.2,171.5 L292.2,171.44 L293.2,171.37 L294.2,171.31 L295.2,171.24 L296.2,171.18 L297.2,171.11 L298.2,171.04 L299.2,170.98 L300.2,170.91 L301.2,170.85 L302.2,170.78 L303.2,170.72 L304.2,170.65 L305.2,170.59 L306.2,170.52 L307.2,170.46 L308.2,170.39 L309.2,170.33 L310.2,170.27 L311.2,170.2 L312.2,170.14 L313.2,170.08 L314.2,170.02 L315.2,169.96 L316.2,169.9 L317.2,169.84 L318.2,169.78 L319.2,169.72 L320.2,169.66 L321.2,169.61 L322.2,169.55 L323.2,169.5 L324.2,169.45 L325.2,169.4 L326.2,169.34 L327.2,169.3 L328.2,169.25 L329.2,169.2 L330.2,169.15 L331.2,169.11 L332.2,169.07 L333.2,169.03 L334.2,168.99 L335.2,168.95 L336.2,168.91 L337.2,168.88 L338.2,168.84 L339.2,168.81 L340.2,168.78 L341.2,168.75 L342.2,168.73 L343.2,168.7 L344.2,168.68 L345.2,168.66 L346.2,168.64 L347.2,168.63 L348.2,168.61 L349.2,168.6 L350.2,168.59 L351.2,168.59 L352.2,168.58 L353.2,168.58 L354.2,168.58 L355.2,168.58 L356.2,168.59 L357.2,168.59 L358.2,168.6 L359.2,168.62 L360.2,168.63 L361.2,168.65 L362.2,168.67 L363.2,168.7 L364.2,168.72 L365.2,168.75 L366.2,168.79 L367.2,168.82 L368.2,168.86 L369.2,168.9 L370.2,168.95 L371.2,169 L372.2,169.05 L373.2,169.1 L374.2,169.16 L375.2,169.22 L376.2,169.29 L377.2,169.36 L378.2,169.43 L379.2,169.51 L380.2,169.59 L381.2,169.67 L382.2,169.75 L383.2,169.84 L384.2,169.94 L385.2,170.03 L386.2,170.13 L387.2,170.24 L388.2,170.34 L389.2,170.45 L390.2,170.56 L391.2,170.67 L392.2,170.79 L393.2,170.91 L394.2,171.03 L395.2,171.15 L396.2,171.27 L397.2,171.4 L398.2,171.53 L399.2,171.65 L400.2,171.79 L401.2,171.92 L402.2,172.05 L403.2,172.18 L404.2,172.32 L405.2,172.46 L406.2,172.59 L407.2,172.73 L408.2,172.87 L409.2,173.01 L410.2,173.15 L411.2,173.29 L412.2,173.42 L413.2,173.56 L414.2,173.7 L415.2,173.84 L416.2,173.98 L417.2,174.12 L418.2,174.26 L419.2,174.39 L420.2,174.53 L421.2,174.66 L422.2,174.8 L423.2,174.93 L424.2,175.06 L425.2,175.19 L426.2,175.32 L427.2,175.45 L428.2,175.57 L429.2,175.7 L430.2,175.82 L431.2,175.94 L432.2,176.05 L433.2,176.17 L434.2,176.28 L435.2,176.39 L436.2,176.5 L437.2,176.6 L438.2,176.71 L439.2,176.8 L440.2,176.9 L441.2,176.99 L442.2,177.08 L443.2,177.17 L444.2,177.25 L445.2,177.33 L446.2,177.4 L447.2,177.47 L448.2,177.54 L449.2,177.6 L450.2,177.66 L451.2,177.72 L452.2,177.77 L453.2,177.81 L454.2,177.85 L455.2,177.89 L456.2,177.92 L457.2,177.94 L458.2,177.96 L459.2,177.98 L460.2,177.99 L461.2,177.99 L462.2,177.99 L463.2,177.99 L464.2,177.97 L465.2,177.96 L466.2,177.93 L467.2,177.91 L468.2,177.87 L469.2,177.83 L470.2,177.79 L471.2,177.74 L472.2,177.68 L473.2,177.62 L474.2,177.55 L475.2,177.47 L476.2,177.4 L477.2,177.31 L478.2,177.22 L479.2,177.12 L480.2,177.02 L481.2,176.91 L482.2,176.8 L483.2,176.68 L484.2,176.56 L485.2,176.43 L486.2,176.29 L487.2,176.15 L488.2,176 L489.2,175.84 L490.2,175.68 L491.2,175.52 L492.2,175.35 L493.2,175.17 L494.2,174.98 L495.2,174.79 L496.2,174.6 L497.2,174.4 L498.2,174.19 L499.2,173.98 L500.2,173.76 L501.2,173.53 L502.2,173.3 L503.2,173.06 L504.2,172.82 L505.2,172.57 L506.2,172.31 L507.2,172.05 L508.2,171.78 L509.2,171.51 L510.2,171.23 L511.2,170.94 L512.2,170.65 L513.2,170.35 L514.2,170.05 L515.2,169.74 L516.2,169.42 L517.2,169.1 L518.2,168.77 L519.2,168.43 L520.2,168.09 L521.2,167.74 L522.2,167.39 L523.2,167.02 L524.2,166.66 L525.2,166.28 L526.2,165.9 L527.2,165.52 L528.2,165.12 L529.2,164.72 L530.2,164.32 L531.2,163.91 L532.2,163.49 L533.2,163.06 L534.2,162.63 L535.2,162.19 L536.2,161.75 L537.2,161.3 L538.2,160.84 L539.2,160.38 L540.2,159.91 L541.2,159.43 L542.2,158.94 L543.2,158.45 L544.2,157.94 L545.2,157.43 L546.2,156.9 L547.2,156.35 L548.2,155.79 L549.2,155.22 L550.2,154.62 L551.2,154.01 L552.2,153.37 L553.2,152.72 L554.2,152.04 L555.2,151.34 L556.2,150.61 L557.2,149.85 L558.2,149.07 L559.2,148.26 L560.2,147.42 L561.2,146.54 L562.2,145.64 L563.2,144.72 L564.2,143.78 L565.2,142.82 L566.2,141.84 L567.2,140.86 L568.2,139.87 L569.2,138.87 L570.2,137.88 L571.2,136.89 L572.2,135.91 L573.2,134.93 L574.2,133.97 L575.2,133.03 L576.2,132.11 L577.2,131.22 L578.2,130.35 L579.2,129.51 L580.2,128.71 L581.2,127.94 L582.2,127.21 L583.2,126.51 L584.2,125.85 L585.2,125.23 L586.2,124.65 L587.2,124.12 L588.2,123.63 L589.2,123.19 L590.2,122.79 L591.2,122.44 L592.2,122.14 L593.2,121.89 L594.2,121.69 L595.2,121.54 L596.2,121.44 L597.2,121.38 L598.2,121.36 L599.2,121.38 L600.2,121.44 L601.2,121.53 L602.2,121.65 L603.2,121.81 L604.2,121.99 L605.2,122.19 L606.2,122.42 L607.2,122.67 L608.2,122.94 L609.2,123.22 L610.2,123.52 L611.2,123.83 L612.2,124.15 L613.2,124.48 L614.2,124.82 L615.2,125.17 L616.2,125.52 L617.2,125.87 L618.2,126.22 L619.2,126.57 L620.2,126.92 L621.2,127.27 L622.2,127.61 L623.2,127.95 L624.2,128.27 L625.2,128.59 L626.2,128.89 L627.2,129.18 L628.2,129.46 L629.2,129.71 L630.2,129.95 L631.2,130.17 L632.2,130.36 L633.2,130.54 L634.2,130.68 L635.2,130.8 L636.2,130.89 L637.2,130.95 L638.2,130.98 L639.2,130.98 L640.2,130.94 L641.2,130.86 L642.2,130.75 L643.2,130.59 L644.2,130.39 L645.2,130.15 L646.2,129.87 L647.2,129.53 L648.2,129.15 L649.2,128.72 L650.2,128.23 L651.2,127.7 L652.2,127.1 L653.2,126.45 L654.2,125.75 L655.2,124.98 L656.2,124.15 L657.2,123.25 L658.2,122.3 L659.2,121.27 L660.2,120.18 L661,119.25" fill="none" stroke="#2A80C8" stroke-width="1.45" stroke-linejoin="round" stroke-linecap="butt"/>
<path d="M60.2,58.96 L61.2,58.88 L62.2,58.8 L63.2,58.72 L64.2,58.64 L65.2,58.56 L66.2,58.47 L67.2,58.39 L68.2,58.31 L69.2,58.23 L70.2,58.15 L71.2,58.07 L72.2,57.98 L73.2,57.9 L74.2,57.82 L75.2,57.74 L76.2,57.66 L77.2,57.58 L78.2,57.5 L79.2,57.41 L80.2,57.33 L81.2,57.25 L82.2,57.17 L83.2,57.09 L84.2,57.01 L85.2,56.92 L86.2,56.84 L87.2,56.76 L88.2,56.68 L89.2,56.6 L90.2,56.52 L91.2,56.44 L92.2,56.36 L93.2,56.27 L94.2,56.19 L95.2,56.11 L96.2,56.03 L97.2,55.95 L98.2,55.87 L99.2,55.79 L100.2,55.71 L101.2,55.63 L102.2,55.55 L103.2,55.47 L104.2,55.39 L105.2,55.31 L106.2,55.23 L107.2,55.15 L108.2,55.07 L109.2,54.99 L110.2,54.91 L111.2,54.83 L112.2,54.75 L113.2,54.67 L114.2,54.59 L115.2,54.51 L116.2,54.43 L117.2,54.35 L118.2,54.27 L119.2,54.19 L120.2,54.12 L121.2,54.04 L122.2,53.96 L123.2,53.88 L124.2,53.8 L125.2,53.73 L126.2,53.65 L127.2,53.57 L128.2,53.49 L129.2,53.42 L130.2,53.34 L131.2,53.26 L132.2,53.19 L133.2,53.11 L134.2,53.03 L135.2,52.96 L136.2,52.88 L137.2,52.8 L138.2,52.73 L139.2,52.65 L140.2,52.58 L141.2,52.5 L142.2,52.43 L143.2,52.35 L144.2,52.28 L145.2,52.21 L146.2,52.13 L147.2,52.06 L148.2,51.98 L149.2,51.91 L150.2,51.84 L151.2,51.76 L152.2,51.69 L153.2,51.62 L154.2,51.55 L155.2,51.48 L156.2,51.4 L157.2,51.33 L158.2,51.26 L159.2,51.19 L160.2,51.12 L161.2,51.05 L162.2,50.98 L163.2,50.91 L164.2,50.84 L165.2,50.77 L166.2,50.7 L167.2,50.63 L168.2,50.56 L169.2,50.49 L170.2,50.43 L171.2,50.36 L172.2,50.29 L173.2,50.22 L174.2,50.16 L175.2,50.09 L176.2,50.02 L177.2,49.96 L178.2,49.89 L179.2,49.83 L180.2,49.76 L181.2,49.7 L182.2,49.63 L183.2,49.57 L184.2,49.5 L185.2,49.44 L186.2,49.38 L187.2,49.31 L188.2,49.25 L189.2,49.19 L190.2,49.13 L191.2,49.07 L192.2,49.01 L193.2,48.94 L194.2,48.88 L195.2,48.82 L196.2,48.76 L197.2,48.7 L198.2,48.65 L199.2,48.59 L200.2,48.53 L201.2,48.47 L202.2,48.41 L203.2,48.36 L204.2,48.3 L205.2,48.24 L206.2,48.19 L207.2,48.13 L208.2,48.08 L209.2,48.02 L210.2,47.97 L211.2,47.91 L212.2,47.86 L213.2,47.81 L214.2,47.75 L215.2,47.7 L216.2,47.65 L217.2,47.6 L218.2,47.55 L219.2,47.5 L220.2,47.45 L221.2,47.4 L222.2,47.35 L223.2,47.3 L224.2,47.25 L225.2,47.2 L226.2,47.15 L227.2,47.11 L228.2,47.06 L229.2,47.01 L230.2,46.97 L231.2,46.92 L232.2,46.88 L233.2,46.83 L234.2,46.79 L235.2,46.75 L236.2,46.7 L237.2,46.66 L238.2,46.62 L239.2,46.58 L240.2,46.54 L241.2,46.49 L242.2,46.45 L243.2,46.42 L244.2,46.38 L245.2,46.34 L246.2,46.3 L247.2,46.26 L248.2,46.22 L249.2,46.19 L250.2,46.15 L251.2,46.12 L252.2,46.08 L253.2,46.05 L254.2,46.01 L255.2,45.98 L256.2,45.95 L257.2,45.91 L258.2,45.88 L259.2,45.85 L260.2,45.82 L261.2,45.79 L262.2,45.76 L263.2,45.73 L264.2,45.7 L265.2,45.68 L266.2,45.65 L267.2,45.62 L268.2,45.6 L269.2,45.57 L270.2,45.55 L271.2,45.52 L272.2,45.5 L273.2,45.47 L274.2,45.45 L275.2,45.43 L276.2,45.41 L277.2,45.39 L278.2,45.37 L279.2,45.35 L280.2,45.33 L281.2,45.31 L282.2,45.29 L283.2,45.27 L284.2,45.26 L285.2,45.24 L286.2,45.22 L287.2,45.21 L288.2,45.19 L289.2,45.18 L290.2,45.16 L291.2,45.15 L292.2,45.13 L293.2,45.12 L294.2,45.11 L295.2,45.09 L296.2,45.08 L297.2,45.06 L298.2,45.05 L299.2,45.03 L300.2,45.02 L301.2,45.01 L302.2,44.99 L303.2,44.98 L304.2,44.96 L305.2,44.94 L306.2,44.93 L307.2,44.91 L308.2,44.9 L309.2,44.88 L310.2,44.86 L311.2,44.84 L312.2,44.82 L313.2,44.8 L314.2,44.78 L315.2,44.76 L316.2,44.74 L317.2,44.72 L318.2,44.69 L319.2,44.67 L320.2,44.65 L321.2,44.62 L322.2,44.59 L323.2,44.56 L324.2,44.54 L325.2,44.51 L326.2,44.47 L327.2,44.44 L328.2,44.41 L329.2,44.37 L330.2,44.34 L331.2,44.3 L332.2,44.26 L333.2,44.22 L334.2,44.18 L335.2,44.14 L336.2,44.09 L337.2,44.04 L338.2,44 L339.2,43.95 L340.2,43.9 L341.2,43.84 L342.2,43.79 L343.2,43.73 L344.2,43.67 L345.2,43.61 L346.2,43.55 L347.2,43.49 L348.2,43.42 L349.2,43.35 L350.2,43.28 L351.2,43.21 L352.2,43.14 L353.2,43.06 L354.2,42.98 L355.2,42.9 L356.2,42.82 L357.2,42.74 L358.2,42.65 L359.2,42.57 L360.2,42.48 L361.2,42.39 L362.2,42.29 L363.2,42.2 L364.2,42.11 L365.2,42.01 L366.2,41.91 L367.2,41.81 L368.2,41.71 L369.2,41.61 L370.2,41.51 L371.2,41.4 L372.2,41.3 L373.2,41.19 L374.2,41.08 L375.2,40.97 L376.2,40.86 L377.2,40.75 L378.2,40.64 L379.2,40.53 L380.2,40.42 L381.2,40.3 L382.2,40.19 L383.2,40.07 L384.2,39.95 L385.2,39.84 L386.2,39.72 L387.2,39.6 L388.2,39.49 L389.2,39.37 L390.2,39.25 L391.2,39.13 L392.2,39.01 L393.2,38.89 L394.2,38.77 L395.2,38.65 L396.2,38.53 L397.2,38.41 L398.2,38.29 L399.2,38.17 L400.2,38.05 L401.2,37.93 L402.2,37.81 L403.2,37.69 L404.2,37.57 L405.2,37.45 L406.2,37.33 L407.2,37.21 L408.2,37.1 L409.2,36.98 L410.2,36.86 L411.2,36.75 L412.2,36.64 L413.2,36.52 L414.2,36.41 L415.2,36.3 L416.2,36.19 L417.2,36.08 L418.2,35.98 L419.2,35.87 L420.2,35.77 L421.2,35.67 L422.2,35.57 L423.2,35.47 L424.2,35.37 L425.2,35.28 L426.2,35.18 L427.2,35.09 L428.2,35.01 L429.2,34.92 L430.2,34.84 L431.2,34.75 L432.2,34.68 L433.2,34.6 L434.2,34.53 L435.2,34.45 L436.2,34.39 L437.2,34.32 L438.2,34.26 L439.2,34.2 L440.2,34.14 L441.2,34.09 L442.2,34.04 L443.2,33.99 L444.2,33.95 L445.2,33.91 L446.2,33.87 L447.2,33.84 L448.2,33.81 L449.2,33.79 L450.2,33.76 L451.2,33.75 L452.2,33.73 L453.2,33.72 L454.2,33.72 L455.2,33.72 L456.2,33.72 L457.2,33.73 L458.2,33.74 L459.2,33.76 L460.2,33.78 L461.2,33.8 L462.2,33.83 L463.2,33.87 L464.2,33.91 L465.2,33.95 L466.2,34 L467.2,34.06 L468.2,34.12 L469.2,34.18 L470.2,34.26 L471.2,34.33 L472.2,34.41 L473.2,34.5 L474.2,34.6 L475.2,34.69 L476.2,34.8 L477.2,34.91 L478.2,35.03 L479.2,35.15 L480.2,35.28 L481.2,35.41 L482.2,35.55 L483.2,35.7 L484.2,35.86 L485.2,36.02 L486.2,36.18 L487.2,36.36 L488.2,36.54 L489.2,36.72 L490.2,36.92 L491.2,37.12 L492.2,37.33 L493.2,37.54 L494.2,37.76 L495.2,37.99 L496.2,38.23 L497.2,38.48 L498.2,38.73 L499.2,38.99 L500.2,39.25 L501.2,39.53 L502.2,39.81 L503.2,40.1 L504.2,40.4 L505.2,40.71 L506.2,41.02 L507.2,41.34 L508.2,41.67 L509.2,42.01 L510.2,42.36 L511.2,42.71 L512.2,43.08 L513.2,43.45 L514.2,43.83 L515.2,44.22 L516.2,44.62 L517.2,45.03 L518.2,45.45 L519.2,45.88 L520.2,46.31 L521.2,46.76 L522.2,47.21 L523.2,47.67 L524.2,48.15 L525.2,48.63 L526.2,49.12 L527.2,49.62 L528.2,50.13 L529.2,50.65 L530.2,51.18 L531.2,51.73 L532.2,52.28 L533.2,52.84 L534.2,53.41 L535.2,53.98 L536.2,54.57 L537.2,55.17 L538.2,55.78 L539.2,56.39 L540.2,57.02 L541.2,57.65 L542.2,58.29 L543.2,58.94 L544.2,59.6 L545.2,60.27 L546.2,60.94 L547.2,61.62 L548.2,62.32 L549.2,63.01 L550.2,63.72 L551.2,64.44 L552.2,65.16 L553.2,65.89 L554.2,66.62 L555.2,67.37 L556.2,68.12 L557.2,68.87 L558.2,69.64 L559.2,70.41 L560.2,71.19 L561.2,71.97 L562.2,72.76 L563.2,73.56 L564.2,74.36 L565.2,75.17 L566.2,75.99 L567.2,76.81 L568.2,77.63 L569.2,78.47 L570.2,79.3 L571.2,80.15 L572.2,80.99 L573.2,81.85 L574.2,82.71 L575.2,83.57 L576.2,84.43 L577.2,85.29 L578.2,86.14 L579.2,86.98 L580.2,87.8 L581.2,88.6 L582.2,89.38 L583.2,90.14 L584.2,90.86 L585.2,91.56 L586.2,92.21 L587.2,92.82 L588.2,93.39 L589.2,93.9 L590.2,94.37 L591.2,94.77 L592.2,95.12 L593.2,95.41 L594.2,95.62 L595.2,95.77 L596.2,95.83 L597.2,95.83 L598.2,95.74 L599.2,95.58 L600.2,95.36 L601.2,95.08 L602.2,94.74 L603.2,94.36 L604.2,93.94 L605.2,93.48 L606.2,92.99 L607.2,92.47 L608.2,91.94 L609.2,91.4 L610.2,90.85 L611.2,90.31 L612.2,89.76 L613.2,89.22 L614.2,88.68 L615.2,88.15 L616.2,87.64 L617.2,87.14 L618.2,86.66 L619.2,86.2 L620.2,85.76 L621.2,85.34 L622.2,84.95 L623.2,84.6 L624.2,84.27 L625.2,83.98 L626.2,83.73 L627.2,83.51 L628.2,83.32 L629.2,83.17 L630.2,83.05 L631.2,82.96 L632.2,82.89 L633.2,82.86 L634.2,82.86 L635.2,82.88 L636.2,82.93 L637.2,83 L638.2,83.09 L639.2,83.21 L640.2,83.35 L641.2,83.51 L642.2,83.69 L643.2,83.89 L644.2,84.11 L645.2,84.34 L646.2,84.59 L647.2,84.85 L648.2,85.12 L649.2,85.41 L650.2,85.71 L651.2,86.02 L652.2,86.34 L653.2,86.67 L654.2,87.01 L655.2,87.35 L656.2,87.69 L657.2,88.04 L658.2,88.4 L659.2,88.76 L660.2,89.11 L661,89.4" fill="none" stroke="#E3141F" stroke-width="1.45" stroke-linejoin="round" stroke-linecap="butt"/>
<path d="M60.2,345.92 L63.6,349.32 L60.2,352.72 L56.8,349.32 Z" fill="#84C95A" fill-opacity="0.85"/>
<path d="M661.4,321.99 L664.8,325.39 L661.4,328.79 L658,325.39 Z" fill="#84C95A" fill-opacity="0.85"/>
<path d="M60.2,328.33 L63.6,331.73 L60.2,335.13 L56.8,331.73 Z" fill="#978AA0" fill-opacity="0.85"/>
<path d="M661.4,336.77 L664.8,340.17 L661.4,343.57 L658,340.17 Z" fill="#978AA0" fill-opacity="0.85"/>
<path d="M60.2,300.88 L63.6,304.28 L60.2,307.68 L56.8,304.28 Z" fill="#F08A58" fill-opacity="0.85"/>
<path d="M661.4,371.61 L664.8,375.01 L661.4,378.41 L658,375.01 Z" fill="#F08A58" fill-opacity="0.85"/>
<path d="M60.2,185.45 L63.6,188.85 L60.2,192.25 L56.8,188.85 Z" fill="#6FA5DA" fill-opacity="0.85"/>
<path d="M661.4,105.93 L664.8,109.33 L661.4,112.73 L658,109.33 Z" fill="#6FA5DA" fill-opacity="0.85"/>
<path d="M60.2,49.62 L63.6,53.02 L60.2,56.42 L56.8,53.02 Z" fill="#EC6A8A" fill-opacity="0.85"/>
<path d="M661.4,98.18 L664.8,101.58 L661.4,104.98 L658,101.58 Z" fill="#EC6A8A" fill-opacity="0.85"/>
<g stroke="#444444" stroke-width="0.7"><line x1="27.8" y1="382.4" x2="30" y2="382.4"/><line x1="27.8" y1="312.02" x2="30" y2="312.02"/><line x1="27.8" y1="241.64" x2="30" y2="241.64"/><line x1="27.8" y1="171.26" x2="30" y2="171.26"/><line x1="27.8" y1="100.88" x2="30" y2="100.88"/><line x1="27.8" y1="30.5" x2="30" y2="30.5"/><line x1="62.45" y1="396.4" x2="62.45" y2="398.6"/><line x1="100.23" y1="396.4" x2="100.23" y2="398.6"/><line x1="137.6" y1="396.4" x2="137.6" y2="398.6"/><line x1="174.97" y1="396.4" x2="174.97" y2="398.6"/><line x1="212.75" y1="396.4" x2="212.75" y2="398.6"/><line x1="250.53" y1="396.4" x2="250.53" y2="398.6"/><line x1="287.9" y1="396.4" x2="287.9" y2="398.6"/><line x1="324.86" y1="396.4" x2="324.86" y2="398.6"/><line x1="362.64" y1="396.4" x2="362.64" y2="398.6"/><line x1="400.42" y1="396.4" x2="400.42" y2="398.6"/><line x1="437.79" y1="396.4" x2="437.79" y2="398.6"/><line x1="474.75" y1="396.4" x2="474.75" y2="398.6"/><line x1="512.53" y1="396.4" x2="512.53" y2="398.6"/><line x1="550.31" y1="396.4" x2="550.31" y2="398.6"/><line x1="587.68" y1="396.4" x2="587.68" y2="398.6"/><line x1="624.64" y1="396.4" x2="624.64" y2="398.6"/><line x1="662.42" y1="396.4" x2="662.42" y2="398.6"/></g>
<g font-size="7" fill="#555555"><text x="26.6" y="384.9" text-anchor="end">0%</text><text x="26.6" y="314.52" text-anchor="end">10%</text><text x="26.6" y="244.14" text-anchor="end">20%</text><text x="26.6" y="173.76" text-anchor="end">30%</text><text x="26.6" y="103.38" text-anchor="end">40%</text><text x="26.6" y="33" text-anchor="end">50%</text></g>
<g font-size="7" fill="#555555"><text x="62.45" y="404.7" text-anchor="middle">Jun 2019</text><text x="100.23" y="404.7" text-anchor="middle">Sep 2019</text><text x="137.6" y="404.7" text-anchor="middle">Dec 2019</text><text x="174.97" y="404.7" text-anchor="middle">Mar 2020</text><text x="212.75" y="404.7" text-anchor="middle">Jun 2020</text><text x="250.53" y="404.7" text-anchor="middle">Sep 2020</text><text x="287.9" y="404.7" text-anchor="middle">Dec 2020</text><text x="324.86" y="404.7" text-anchor="middle">Mar 2021</text><text x="362.64" y="404.7" text-anchor="middle">Jun 2021</text><text x="400.42" y="404.7" text-anchor="middle">Sep 2021</text><text x="437.79" y="404.7" text-anchor="middle">Dec 2021</text><text x="474.75" y="404.7" text-anchor="middle">Mar 2022</text><text x="512.53" y="404.7" text-anchor="middle">Jun 2022</text><text x="550.31" y="404.7" text-anchor="middle">Sep 2022</text><text x="587.68" y="404.7" text-anchor="middle">Dec 2022</text><text x="624.64" y="404.7" text-anchor="middle">Mar 2023</text><text x="662.42" y="404.7" text-anchor="middle">Jun 2023</text></g>
<rect x="700.5" y="168.6" width="15.3" height="72.75" fill="#F2F2F2"/>
<line x1="702.1" y1="175.88" x2="714.2" y2="175.88" stroke="#E3141F" stroke-width="1.9"/>
<text x="718.2" y="178.78" font-size="9" fill="#1A1A1A">PSOE</text>
<line x1="702.1" y1="190.43" x2="714.2" y2="190.43" stroke="#2A80C8" stroke-width="1.9"/>
<text x="718.2" y="193.33" font-size="9" fill="#1A1A1A">PP</text>
<line x1="702.1" y1="204.97" x2="714.2" y2="204.97" stroke="#EE6A1E" stroke-width="1.9"/>
<text x="718.2" y="207.88" font-size="9" fill="#1A1A1A">CS</text>
<line x1="702.1" y1="219.53" x2="714.2" y2="219.53" stroke="#6A4766" stroke-width="1.9"/>
<text x="718.2" y="222.43" font-size="9" fill="#1A1A1A">UP</text>
<line x1="702.1" y1="234.07" x2="714.2" y2="234.07" stroke="#64C236" stroke-width="1.9"/>
<text x="718.2" y="236.97" font-size="9" fill="#1A1A1A">Vox</text>
</svg></body></html>
